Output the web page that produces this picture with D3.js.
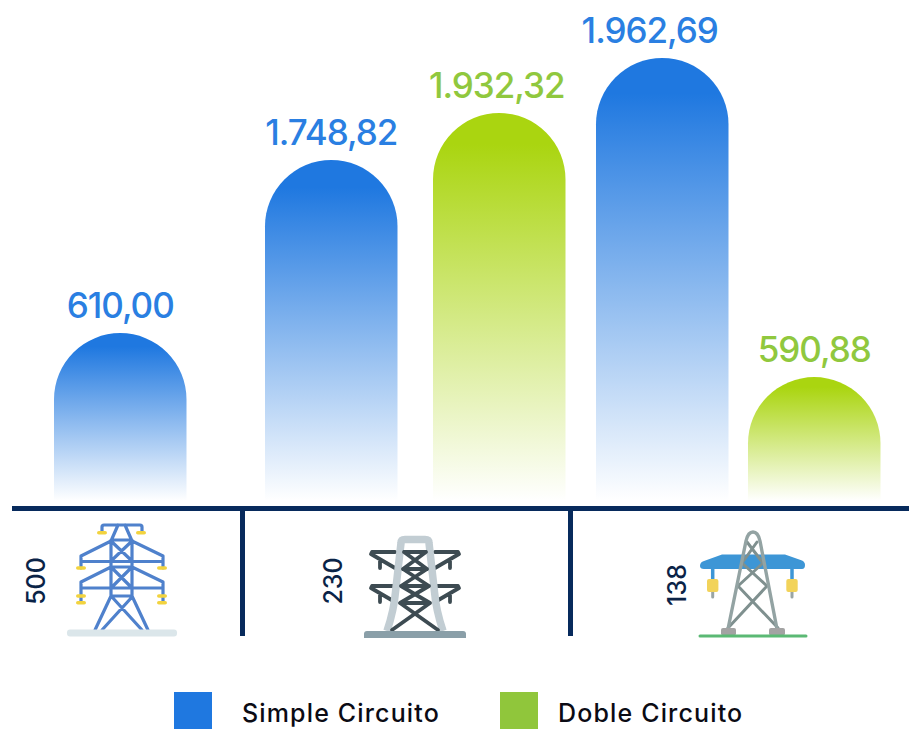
<!DOCTYPE html>
<html><head><meta charset="utf-8">
<script src="https://cdn.jsdelivr.net/npm/d3@7"></script>
<style>html,body{margin:0;padding:0;background:#fff}svg{display:block}text{font-family:Inter,sans-serif}</style>
</head><body><div id="c"></div>
<script>
// ---- data ----
const barKeys = ["500-S","230-S","230-D","138-S","138-D"];
const barLabels = ["610,00","1.748,82","1.932,32","1.962,69","590,88"];
const barSeries = ["simple","simple","doble","simple","doble"];
// the reference bars are not drawn to their labelled value: these are the visual levels, on the axis of the tallest bar
const barLevels = [744, 1511, 1719, 1963, 549];
const categories = ["500","230","138"];
const legendNames = ["Simple Circuito","Doble Circuito"];
const legendSeries = ["simple","doble"];

// ---- layout ----
const W=909,H=729,baseY=501,topY=58,barW=132.5;
const svg=d3.select("#c").append("svg").attr("width",W).attr("height",H);
const y=d3.scaleLinear().domain([0,1963]).range([baseY,topY]);
const x=d3.scaleOrdinal(barKeys,[54,265,433,596,748]);
const labelDx=d3.scaleOrdinal(barKeys,[0,0,-2.5,-12.5,0]);
const catX=d3.scaleOrdinal(categories,[36,333,677]);
const catY=d3.scaleOrdinal(categories,[581,581,585]);
const barTop={simple:"#1f78e0",doble:"#aad510"};
const textCol={simple:"#2a7fe2",doble:"#90c83e"};
const swatch={simple:"#1f78e0",doble:"#90c63b"};
const legendRect=d3.scaleOrdinal(legendSeries,[174,500]);
const legendText=d3.scaleOrdinal(legendSeries,[242,558]);
const navy="#072a5c";
const catInk="#0a2347";

const defs=svg.append("defs");
Object.keys(barTop).forEach(k=>{
  const g=defs.append("linearGradient").attr("id","g-"+k).attr("x1",0).attr("y1",0).attr("x2",0).attr("y2",1);
  g.append("stop").attr("offset","8%").attr("stop-color",barTop[k]);
  g.append("stop").attr("offset","100%").attr("stop-color",barTop[k]).attr("stop-opacity",0);
});

const bars=barKeys.map((k,i)=>({k,label:barLabels[i],s:barSeries[i],v:barLevels[i]}));
svg.append("g").selectAll("path").data(bars).join("path")
  .attr("fill",d=>`url(#g-${d.s})`)
  .attr("d",d=>{const l=x(d.k),t=y(d.v),r=barW/2;
    return `M${l},${baseY}V${t+r}A${r},${r} 0 0 1 ${l+barW},${t+r}V${baseY}Z`;});
svg.append("g").selectAll("text").data(bars).join("text")
  .attr("x",d=>x(d.k)+barW/2+labelDx(d.k))
  .attr("y",d=>y(d.v)-15)
  .attr("text-anchor","middle").attr("font-size",35).attr("font-weight",500).attr("letter-spacing",-1)
  .attr("fill",d=>textCol[d.s]).text(d=>d.label);

// axis and dividers
svg.append("rect").attr("x",12).attr("y",506).attr("width",W-12).attr("height",5).attr("fill",navy);
[240,568].forEach(px=>svg.append("rect").attr("x",px).attr("y",506).attr("width",5).attr("height",130).attr("fill",navy));

svg.append("g").selectAll("text").data(categories).join("text")
  .attr("transform",d=>`translate(${catX(d)+9},${catY(d)}) rotate(-90)`)
  .attr("text-anchor","middle").attr("font-size",25).attr("font-weight",500)
  .attr("fill",catInk).text(d=>d);

// ---- icons (decorative pictograms) ----
const ic=svg.append("g").attr("fill","none").attr("stroke-linecap","round").attr("stroke-linejoin","round");
// 500 kV
const a=ic.append("g").attr("stroke","#4f81cc").attr("stroke-width",3.2);
a.append("path").attr("d","M102,532V527Q102,525 104,525H140Q142,525 142,527V532M111,541L118,525M132,541L125,525M111,540V596M132,540V596M111,540H132M111,567H132M111,596H132M81,568V556L111,541M163,568V556L132,541M81,561.5H163M81,602V582L111,567M163,602V582L132,567M81,588H163M111,541L132,561M132,541L111,561M111,567L132,588M132,567L111,588M111,596L95,630M132,596L148,630M112,597L142,630M132,597L102,630");
const yel=[[97,532.7],[136,532.7],[76,568],[157,568],[76,596],[157,596],[76,602.7],[157,602.7]];
ic.append("g").selectAll("rect").data(yel).join("rect").attr("x",d=>d[0]).attr("y",d=>d[1]-1.8).attr("width",10).attr("height",3.6).attr("rx",1.8).attr("fill","#f2d33f");
ic.append("rect").attr("x",67).attr("y",629.5).attr("width",110).attr("height",7).attr("rx",3).attr("fill","#dbe6ea");
// 230 kV
const b=ic.append("g");
const dark="#3d4b52";
const armD=dy=>`M395,${552+dy}H372L371,${554+dy}L395,${568+dy}M380,${561+dy}V${568+dy}M435,${552+dy}H458L459,${554+dy}L435,${568+dy}M450,${561+dy}V${568+dy}`;
b.append("path").attr("d",armD(0)+armD(34)).attr("stroke",dark).attr("stroke-width",3.8);
b.append("path").attr("d","M387,631Q394,610 395.5,592L401,543Q401,539.5 405,539.5H425Q429,539.5 429,543L434.5,592Q436,610 443,631").attr("stroke","#c2cdd3").attr("stroke-width",7.5).attr("stroke-linecap","butt");
b.append("path").attr("d","M404,552H426L403,569H427L401,586H429L400,603H430L392,630M426,552L403,569M404,552L427,569M403,569L429,586M427,569L401,586M401,586L430,603M429,586L400,603M400,603L438,630").attr("stroke",dark).attr("stroke-width",3.8);
b.append("path").attr("d","M364,638V634Q364,631 367,631H463Q466,631 466,634V638Z").attr("fill","#8a9fa8");
// 138 kV
const c=ic.append("g");
c.append("path").attr("d","M700,566Q700,562 704,561L722,554.5H785L802,560.5Q805,562 805,565Q805,569 802,569H704Q700,569 700,566Z").attr("fill","#3d96d6");
[712.7,792].forEach(px=>{
  c.append("path").attr("d",`M${px},569V580`).attr("stroke","#3d96d6").attr("stroke-width",3.5).attr("stroke-linecap","butt");
  c.append("path").attr("d",`M${px},592V597`).attr("stroke","#9aa5a5").attr("stroke-width",3);
  c.append("rect").attr("x",px-5.7).attr("y",579).attr("width",11.4).attr("height",13).attr("rx",2).attr("fill","#f2d35a");
});
c.append("path").attr("d","M747,542L763,563M757,542L742,563M742,563L767,586M763,563L738,586M738,586L778,628M767,586L728,628").attr("stroke","#7f908f").attr("stroke-width",3);
c.append("path").attr("d","M728,629L746,541Q748,532 753,532Q758,532 760,541L777,629").attr("stroke","#93a3a3").attr("stroke-width",3.4);
c.append("rect").attr("x",721).attr("y",628).attr("width",15).attr("height",7.5).attr("rx",2).attr("fill","#a3a3a3");
c.append("rect").attr("x",769).attr("y",628).attr("width",16).attr("height",7.5).attr("rx",2).attr("fill","#a3a3a3");
c.append("path").attr("d","M700,636H806").attr("stroke","#5bb974").attr("stroke-width",3);

// ---- legend ----
const lg=svg.append("g");
const legend=legendSeries.map((s,i)=>({s,name:legendNames[i]}));
lg.selectAll("rect").data(legend).join("rect").attr("x",d=>legendRect(d.s)).attr("y",692).attr("width",38).attr("height",37).attr("fill",d=>swatch[d.s]);
lg.selectAll("text").data(legend).join("text").attr("x",d=>legendText(d.s)).attr("y",722)
  .attr("font-size",25).attr("font-weight",500).attr("letter-spacing",1.15).attr("fill","#0b0b14").text(d=>d.name);
</script></body></html>
